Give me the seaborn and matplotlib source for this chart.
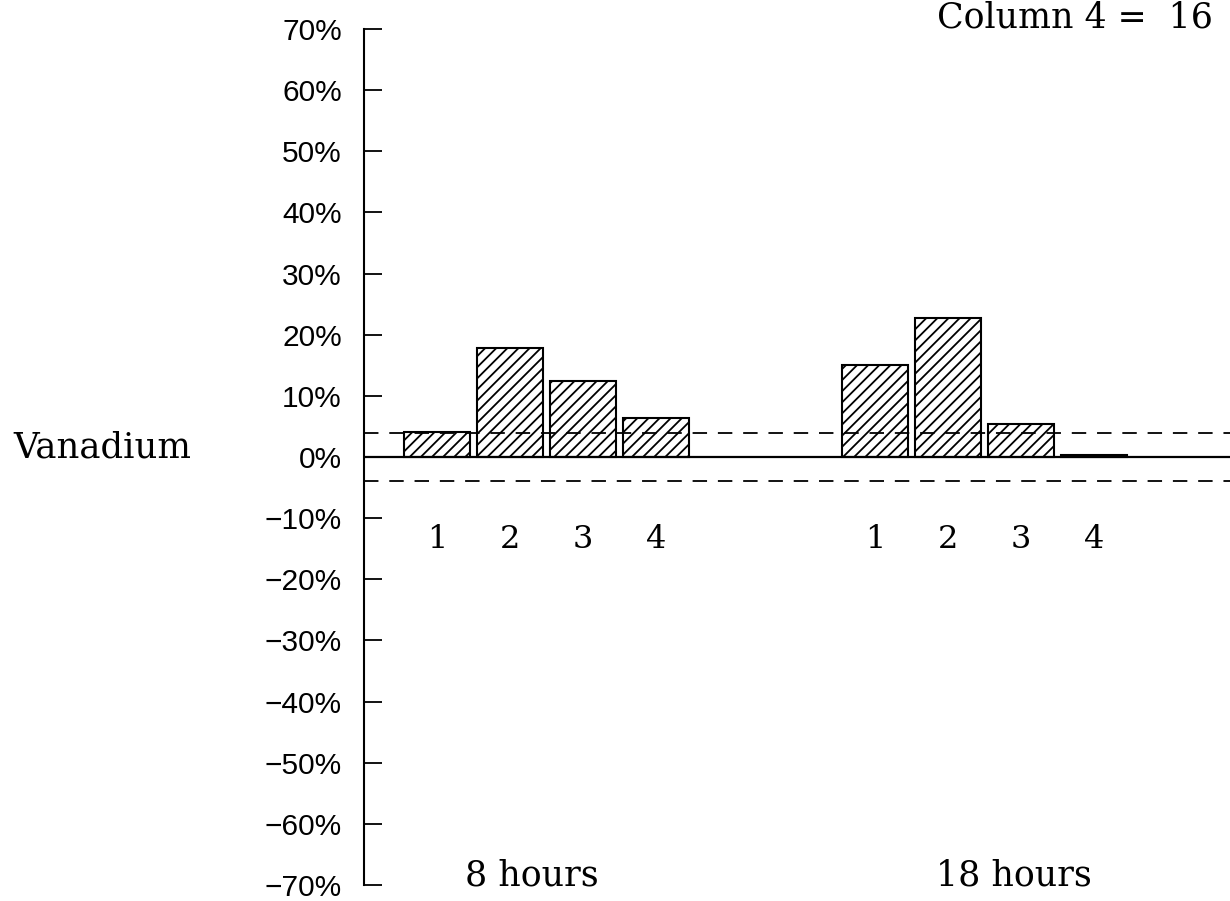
import pandas as pd
import matplotlib.pyplot as plt
import seaborn as sns

# data (percent)
groups = ['8 hours', '18 hours']
columns = ['1', '2', '3', '4']
vals_8h = [4.1, 17.9, 12.5, 6.4]
vals_18h = [15.1, 22.8, 5.4, 0.3]
limit = 4.0
yticks = list(range(-70, 80, 10))
element = 'Vanadium'
title = 'Column 4 =  16'

rows = []
for g, vals in zip(groups, [vals_8h, vals_18h]):
    for c, v in zip(columns, vals):
        rows.append({'slot': g + ' ' + c, 'group': g, 'col': c, 'value': v})
df = pd.DataFrame(rows)

# two empty slots between the groups
order = [groups[0] + ' ' + c for c in columns] + ['gap a', 'gap b'] + [groups[1] + ' ' + c for c in columns]

sns.set_style('ticks')
plt.rcParams['font.family'] = ['Liberation Sans', 'DejaVu Sans']
plt.rcParams['hatch.linewidth'] = 1.3
plt.rcParams['text.color'] = 'black'
plt.rcParams['ytick.color'] = 'black'
plt.rcParams['axes.edgecolor'] = 'black'

fig = plt.figure(figsize=(12.3, 9.01), dpi=100)
ax = fig.add_axes([364 / 1230, 1 - 885 / 901, 1 - 364 / 1230, (885 - 29) / 901])

sns.barplot(data=df, x='slot', y='value', order=order, width=0.9, color='white',
            saturation=1, edgecolor='black', linewidth=1.5, hatch='///',
            errorbar=None, ax=ax)

ax.axhline(0, color='black', lw=1.6, zorder=3)
for lv in [limit, -limit]:
    ax.axhline(lv, color='black', lw=1.3, dashes=(8, 6), zorder=4)

ax.set_ylim(-70, 70)
ax.set_xlim(-1, 10.86)
ax.set_xticks([])
ax.set_xlabel('')
ax.set_ylabel('')
ax.set_yticks(yticks)
ax.set_yticklabels([('\u2212' if t < 0 else '') + f'{abs(t)}%' for t in yticks])
ax.tick_params(axis='y', direction='in', length=13, width=1.3, pad=16, labelsize=21.5,
               colors='black')
for s in ['top', 'right', 'bottom']:
    ax.spines[s].set_visible(False)
ax.spines['left'].set_linewidth(1.5)

serif = ['DejaVu Serif']
# column numbers under each bar
for i, slot in enumerate(order):
    if slot in df['slot'].values:
        col = df.loc[df['slot'] == slot, 'col'].iloc[0]
        ax.text(i, -13.5, col, ha='center', va='center', fontsize=23, family=serif)

# group labels
for gi, g in enumerate(groups):
    idx = [order.index(g + ' ' + c) for c in columns]
    cx = sum(idx) / len(idx) + (-0.2 if gi == 0 else 0.4)
    ax.text(cx, -70, g, ha='center', va='baseline', fontsize=25, family=serif)

ax.text(-0.405, 0, element, transform=ax.get_yaxis_transform(), ha='left',
        va='baseline', fontsize=25.5, family=serif)

fig.text(937 / 1230, 1 - 27 / 901, title, ha='left', va='baseline', fontsize=25, family=serif)

fig.savefig('out.png', dpi=100)
